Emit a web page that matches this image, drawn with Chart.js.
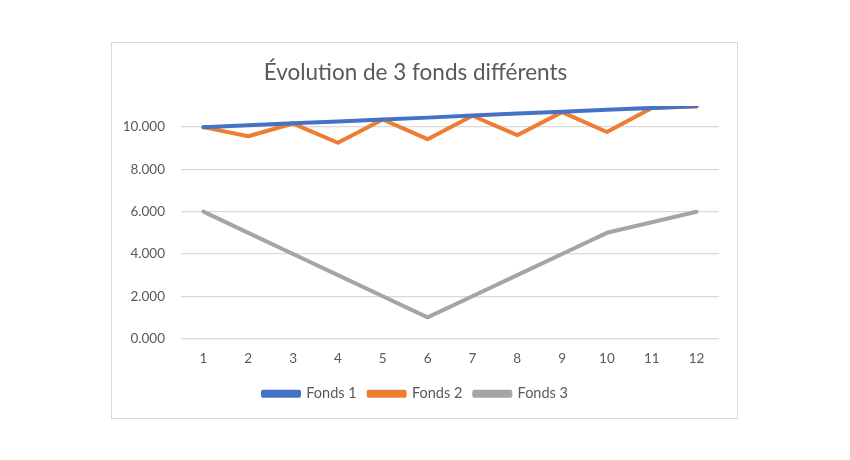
<!DOCTYPE html>
<html>
<head>
<meta charset="utf-8">
<script src="https://cdn.jsdelivr.net/npm/chart.js@4"></script>
<style>
  body { margin: 0; background: #fff; }
  #box {
    position: absolute; left: 111px; top: 42px;
    width: 625px; height: 375px;
    border: 1px solid #d9d9d9;
  }
  #chart { display: block; }
</style>
</head>
<body>
<div id="box"><canvas id="chart" width="625" height="375"></canvas></div>
<script>
// données
const periodes = ['1', '2', '3', '4', '5', '6', '7', '8', '9', '10', '11', '12'];
const fonds1 = [10, 10.09, 10.18, 10.27, 10.36, 10.45, 10.55, 10.64, 10.73, 10.82, 10.91, 11];
const fonds2 = [10, 9.57, 10.17, 9.26, 10.36, 9.43, 10.54, 9.62, 10.71, 9.77, 10.91, 10.98];
const fonds3 = [6, 5, 4, 3, 2, 1, 2, 3, 4, 5, 5.5, 6];
const yTicks = [0, 2, 4, 6, 8, 10];

const txt = '#595959';
const police = 'Lato, "Open Sans", sans-serif';

function serie(label, data, color) {
    return {
        label: label,
        data: data,
        borderColor: color,
        backgroundColor: color,
        borderWidth: 4,
        borderCapStyle: 'round',
        borderJoinStyle: 'round',
        pointRadius: 0,
        tension: 0,
        fill: false
    };
}

const ctx = document.getElementById('chart').getContext('2d');
const chart = new Chart(ctx, {
    type: 'line',
    data: {
        labels: periodes,
        datasets: [
            serie('Fonds 1', fonds1, '#4472c4'),
            serie('Fonds 2', fonds2, '#ed7d31'),
            serie('Fonds 3', fonds3, '#a5a5a5')
        ]
    },
    options: {
        responsive: false,
        animation: false,
        layout: { padding: { left: 0, right: 18, top: 0, bottom: 7 } },
        plugins: {
            title: {
                display: true,
                text: 'Évolution de 3 fonds différents',
                color: txt,
                font: { family: police, size: 22.5, weight: 'normal' },
                padding: { top: 16, bottom: 20 }
            },
            legend: {
                position: 'bottom',
                labels: {
                    color: txt,
                    font: { family: police, size: 14.5 },
                    boxWidth: 36,
                    boxHeight: 4,
                    padding: 12
                }
            },
            tooltip: { enabled: false }
        },
        scales: {
            x: {
                offset: true,
                grid: { display: false, drawTicks: false },
                border: { display: false },
                ticks: { color: txt, font: { family: police, size: 13.5 }, padding: 12, maxRotation: 0 },
                afterFit: function(scale) { scale.height = 36; }
            },
            y: {
                min: 0,
                max: 11,
                grid: { color: '#d9d9d9', lineWidth: 1.3, drawTicks: false },
                border: { display: false },
                afterBuildTicks: function(scale) {
                    scale.ticks = yTicks.map(v => ({ value: v }));
                },
                ticks: {
                    color: txt,
                    font: { family: police, size: 13.5 },
                    padding: 16,
                    callback: function(value) { return value.toFixed(3); }
                },
                afterFit: function(scale) { scale.width = 69; }
            }
        }
    }
});
</script>
</body>
</html>
